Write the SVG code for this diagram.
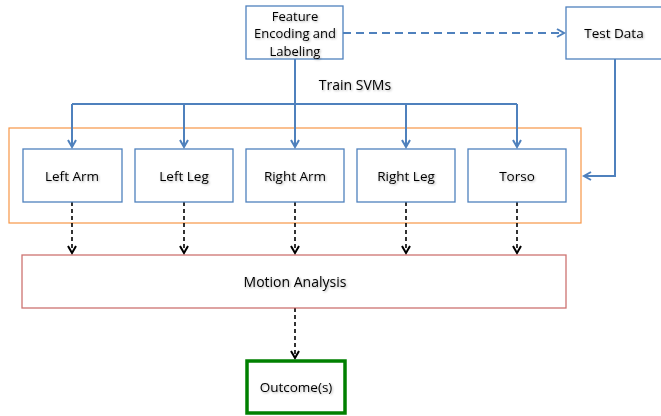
<svg xmlns="http://www.w3.org/2000/svg" width="661" height="416" viewBox="0 0 661 416">
<defs>
<marker id="ab" markerWidth="10" markerHeight="10" refX="8" refY="5" orient="auto" markerUnits="userSpaceOnUse"><path d="M1,1 L8,5 L1,9" fill="none" stroke="#4f81bd" stroke-width="2"/></marker>
<marker id="ak" markerWidth="10" markerHeight="10" refX="8" refY="5" orient="auto" markerUnits="userSpaceOnUse"><path d="M1,1 L8,5 L1,9" fill="none" stroke="#000" stroke-width="2"/></marker>
<filter id="sh" x="-10%" y="-10%" width="130%" height="140%"><feDropShadow dx="1" dy="1" stdDeviation="0.8" flood-color="#000" flood-opacity="0.3"/></filter>
</defs>
<style>
text{font-family:"Open Sans","Liberation Sans",sans-serif;font-size:13.5px;fill:#000;text-anchor:middle;filter:url(#sh)}
.bx{fill:#fff;stroke:#4f81bd;stroke-width:1.3}
.bl{fill:none;stroke:#4f81bd;stroke-width:2}
.bk{fill:none;stroke:#000;stroke-width:1.6;stroke-dasharray:4,3;marker-end:url(#ak)}
</style>
<rect width="661" height="416" fill="#fff"/>
<g id="group-frame"><rect x="9" y="128" width="572" height="95" fill="none" stroke="#f79646" stroke-width="1.2"/></g>
<g id="connectors">
<path class="bl" d="M343,33 H564" stroke-dasharray="8,5" marker-end="url(#ab)"/>
<path class="bl" d="M295,59 V104"/>
<path class="bl" d="M72,104 H517"/>
<path class="bl" d="M72,104 V147" marker-end="url(#ab)"/>
<path class="bl" d="M184,104 V147" marker-end="url(#ab)"/>
<path class="bl" d="M295,104 V147" marker-end="url(#ab)"/>
<path class="bl" d="M406,104 V147" marker-end="url(#ab)"/>
<path class="bl" d="M517,104 V147" marker-end="url(#ab)"/>
<path class="bl" d="M615,59 V176 H584" marker-end="url(#ab)"/>
<path class="bk" d="M72,202 V253"/>
<path class="bk" d="M184,202 V253"/>
<path class="bk" d="M295,202 V253"/>
<path class="bk" d="M406,202 V253"/>
<path class="bk" d="M517,202 V253"/>
<path class="bk" d="M295,308 V358"/>
<text x="355" y="90" style="font-size:14px">Train SVMs</text>
</g>
<g id="feature"><rect class="bx" x="246" y="6" width="97" height="53"/>
<text x="295" y="21" style="font-size:13px">Feature</text><text x="295" y="38" style="font-size:13px">Encoding and</text><text x="295" y="56" style="font-size:13px">Labeling</text></g>
<g id="testdata"><rect class="bx" x="566" y="7" width="97" height="52"/><text x="614" y="38">Test Data</text></g>
<g id="leftarm"><rect class="bx" x="23" y="149" width="99" height="53"/><text x="72" y="181">Left Arm</text></g>
<g id="leftleg"><rect class="bx" x="135" y="149" width="98" height="53"/><text x="184" y="181">Left Leg</text></g>
<g id="rightarm"><rect class="bx" x="246" y="149" width="98" height="53"/><text x="295" y="181">Right Arm</text></g>
<g id="rightleg"><rect class="bx" x="357" y="149" width="98" height="53"/><text x="406" y="181">Right Leg</text></g>
<g id="torso"><rect class="bx" x="468" y="149" width="98" height="53"/><text x="517" y="181">Torso</text></g>
<g id="motion"><rect x="22" y="255" width="544" height="53" fill="#fff" stroke="#c0504d" stroke-opacity="0.8" stroke-width="1.3"/><text x="295" y="287" style="font-size:14px">Motion Analysis</text></g>
<g id="outcome"><rect x="247" y="361" width="98" height="52" fill="#fff" stroke="#008000" stroke-width="3.5"/><text x="296" y="392">Outcome(s)</text></g>
</svg>
